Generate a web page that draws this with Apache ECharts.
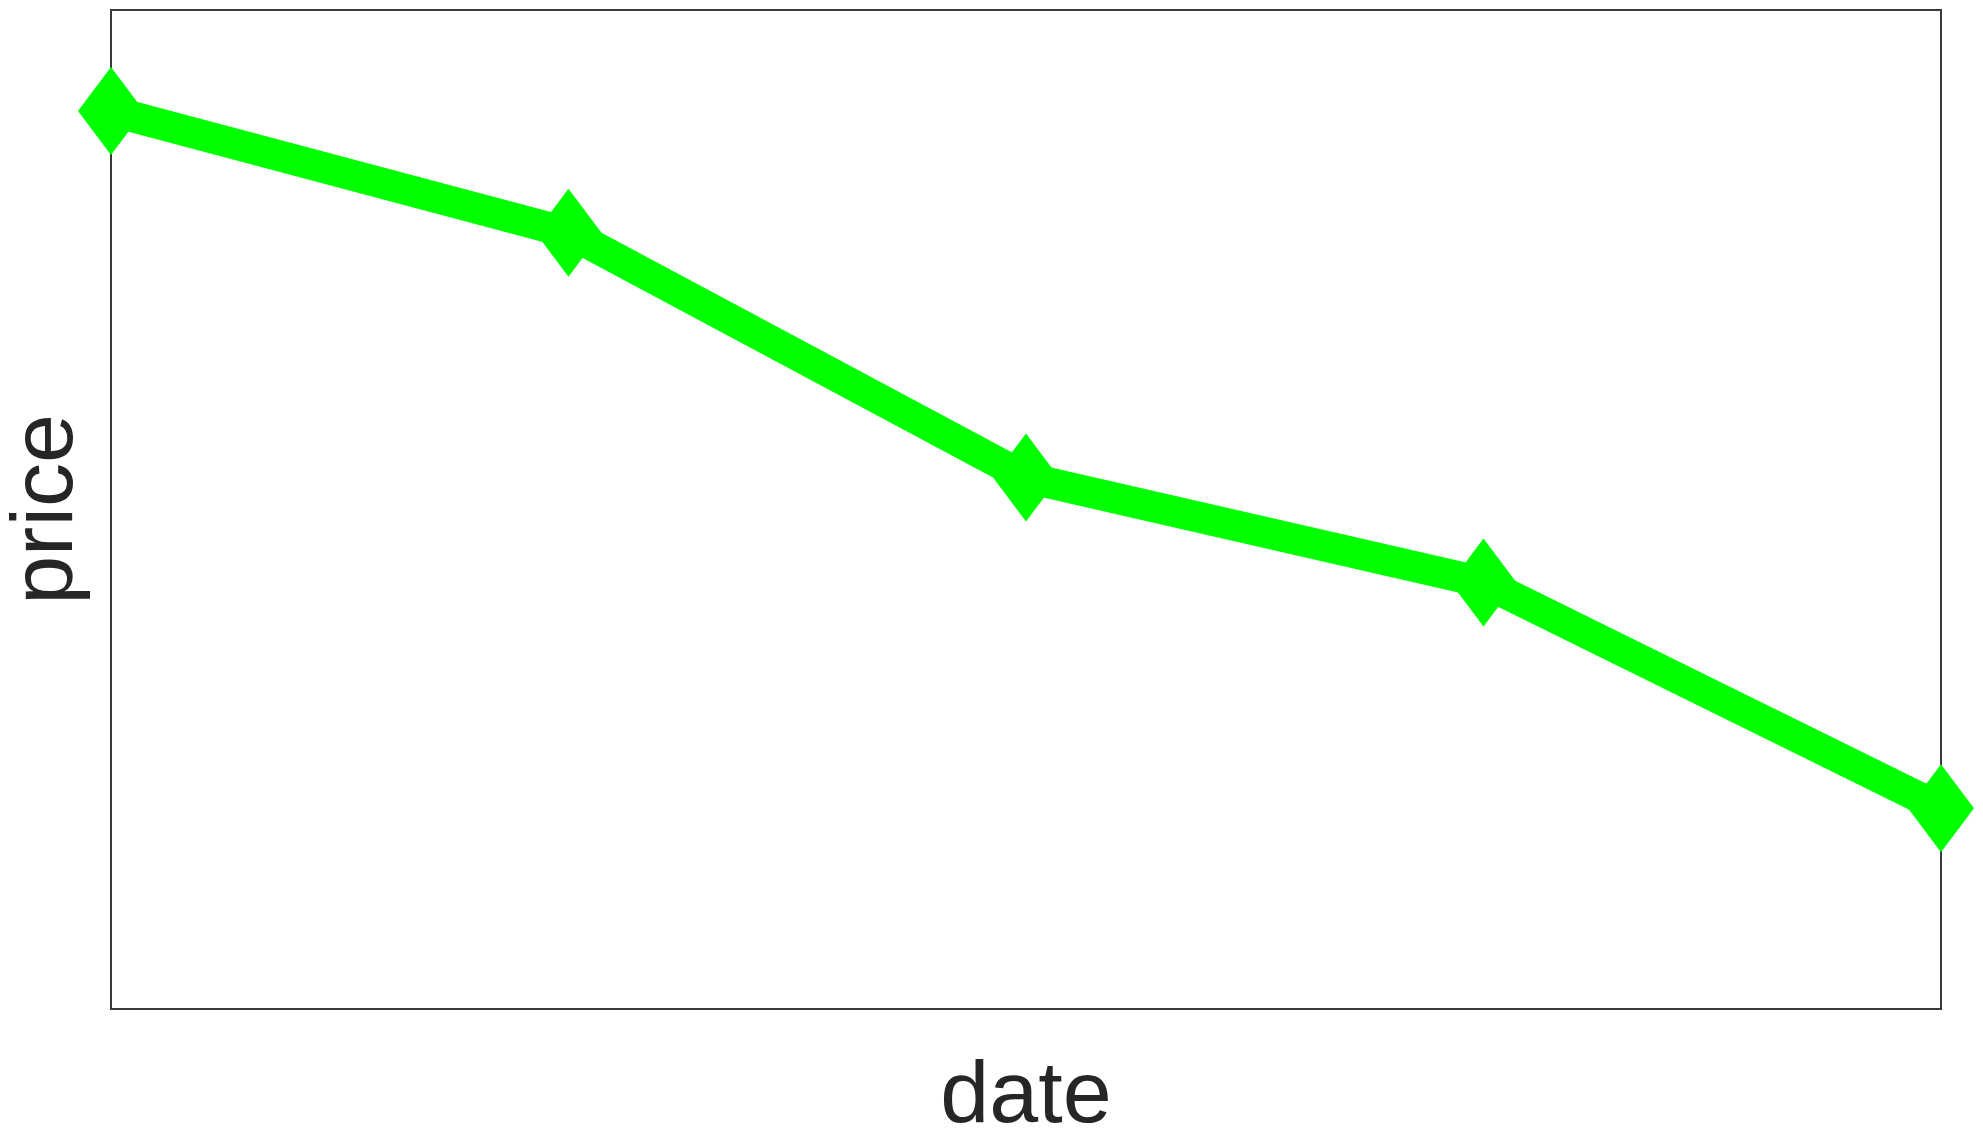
<!DOCTYPE html>
<html lang="en">
<head>
  <meta charset="UTF-8">
  <title>price vs date</title>
  <script src="https://cdn.jsdelivr.net/npm/echarts@6/dist/echarts.min.js"></script>
  <style>
    html, body { margin: 0; padding: 0; background: #ffffff; }
    #chart { width: 1983px; height: 1145px; }
  </style>
</head>
<body>
  <div id="chart"></div>
  <script>
    // values (no tick labels, so the y scale is 0..100)
    const dates = ['d1', 'd2', 'd3', 'd4', 'd5'];
    const prices = [89.9, 77.7, 53.2, 42.7, 20.1];

    const chart = echarts.init(document.getElementById('chart'));

    chart.setOption({
      backgroundColor: '#ffffff',
      animation: false,
      grid: {
        left: 111, right: 42, top: 10, bottom: 136,
        containLabel: false,
        outerBoundsMode: 'none',
        show: true,
        borderColor: '#3a3a3a',
        borderWidth: 2,
        backgroundColor: 'transparent'
      },
      xAxis: {
        type: 'category',
        data: dates,
        boundaryGap: false,
        name: 'date',
        nameLocation: 'middle',
        nameGap: 45,
        nameTextStyle: { fontFamily: 'Liberation Sans, Arial, sans-serif', fontSize: 88, color: '#262626' },
        axisLine: { show: false },
        axisTick: { show: false },
        axisLabel: { show: false },
        splitLine: { show: false }
      },
      yAxis: {
        type: 'value',
        min: 0,
        max: 100,
        name: 'price',
        nameLocation: 'middle',
        nameGap: 19,
        nameTextStyle: { fontFamily: 'Liberation Sans, Arial, sans-serif', fontSize: 88, color: '#262626' },
        axisLine: { show: false },
        axisTick: { show: false },
        axisLabel: { show: false },
        splitLine: { show: false }
      },
      series: [{
        type: 'line',
        data: prices,
        clip: false,
        symbol: 'diamond',
        symbolSize: [66, 88],
        showAllSymbol: true,
        lineStyle: { color: '#00ff00', width: 31 },
        itemStyle: { color: '#00ff00', borderWidth: 0 }
      }]
    });
  </script>
</body>
</html>
